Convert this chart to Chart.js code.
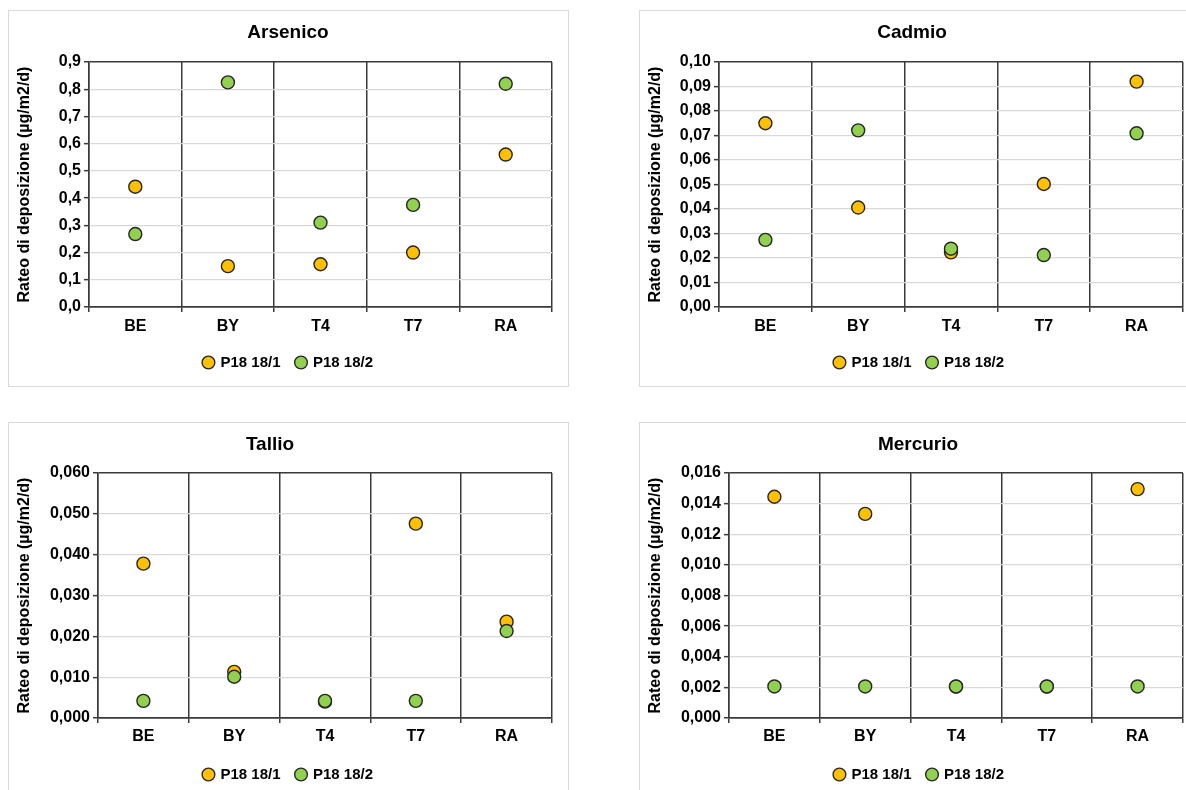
<!DOCTYPE html>
<html>
<head>
<meta charset="utf-8">
<script src="https://cdn.jsdelivr.net/npm/chart.js@4.4.1/dist/chart.umd.min.js"></script>
<style>
  html, body { margin: 0; padding: 0; background: #ffffff; }
  body { width: 1186px; height: 790px; overflow: hidden; position: relative; }
  .box { position: absolute; width: 559px; height: 375px; border: 1px solid #d9d9d9; background: #fff; }
  .box canvas { display: block; }
</style>
</head>
<body>
<div class="box" style="left:8px;top:10px;"><canvas id="c1" width="559" height="375"></canvas></div>
<div class="box" style="left:639px;top:10px;"><canvas id="c2" width="559" height="375"></canvas></div>
<div class="box" style="left:8px;top:422px;"><canvas id="c3" width="559" height="375"></canvas></div>
<div class="box" style="left:639px;top:422px;"><canvas id="c4" width="559" height="375"></canvas></div>
<script>
// ---- Data ----
const categories = ['BE', 'BY', 'T4', 'T7', 'RA'];
const seriesNames = ['P18 18/1', 'P18 18/2'];
const yAxisTitle = 'Rateo di deposizione (µg/m2/d)';

const arsenicoTitle = 'Arsenico';
const arsenico1 = [0.442, 0.150, 0.157, 0.200, 0.560];
const arsenico2 = [0.268, 0.825, 0.310, 0.375, 0.820];
const arsenicoTicks = ['0,0', '0,1', '0,2', '0,3', '0,4', '0,5', '0,6', '0,7', '0,8', '0,9'];

const cadmioTitle = 'Cadmio';
const cadmio1 = [0.0750, 0.0406, 0.0223, 0.0502, 0.0920];
const cadmio2 = [0.0274, 0.0721, 0.0238, 0.0212, 0.0709];
const cadmioTicks = ['0,00', '0,01', '0,02', '0,03', '0,04', '0,05', '0,06', '0,07', '0,08', '0,09', '0,10'];

const tallioTitle = 'Tallio';
const tallio1 = [0.0378, 0.0113, 0.0040, 0.0476, 0.0236];
const tallio2 = [0.0042, 0.0101, 0.0042, 0.0042, 0.0213];
const tallioTicks = ['0,000', '0,010', '0,020', '0,030', '0,040', '0,050', '0,060'];

const mercurioTitle = 'Mercurio';
const mercurio1 = [0.01445, 0.01333, 0.00205, 0.00205, 0.01495];
const mercurio2 = [0.00206, 0.00206, 0.00206, 0.00206, 0.00206];
const mercurioTicks = ['0,000', '0,002', '0,004', '0,006', '0,008', '0,010', '0,012', '0,014', '0,016'];

// ---- Styling ----
const FONT = '"Liberation Sans", Arial, sans-serif';
Chart.defaults.font.family = FONT;
Chart.defaults.color = '#000000';
const DARK = '#3a3a3a';
const LIGHT = '#d9d9d9';
const YELLOW = '#FFC000';
const GREEN = '#92D050';
const MARKER_BORDER = '#262626';

const titlePlugin = {
  id: 'ctitle',
  afterDraw(chart, args, opts) {
    const ctx = chart.ctx;
    ctx.save();
    ctx.font = 'bold 19px ' + FONT;
    ctx.fillStyle = '#000000';
    ctx.textAlign = 'center';
    ctx.textBaseline = 'middle';
    ctx.fillText(opts.text, opts.x, opts.y);
    ctx.restore();
  }
};

function makeChart(id, title, s1, s2, yMax, yStep, tickLabels, lay) {
  const ctx = document.getElementById(id);
  return new Chart(ctx, {
    type: 'line',
    data: {
      labels: categories,
      datasets: [
        {
          label: seriesNames[0], data: s1, showLine: false, order: 1,
          pointRadius: 6.5, pointHoverRadius: 6.5, pointBorderWidth: 1.4,
          pointBackgroundColor: YELLOW, pointBorderColor: MARKER_BORDER,
          backgroundColor: YELLOW, borderColor: MARKER_BORDER, borderWidth: 1.4
        },
        {
          label: seriesNames[1], data: s2, showLine: false, order: 0,
          pointRadius: 6.5, pointHoverRadius: 6.5, pointBorderWidth: 1.4,
          pointBackgroundColor: GREEN, pointBorderColor: MARKER_BORDER,
          backgroundColor: GREEN, borderColor: MARKER_BORDER, borderWidth: 1.4
        }
      ]
    },
    options: {
      responsive: false,
      animation: false,
      devicePixelRatio: 1,
      layout: { padding: { top: lay.top, left: 0, right: 0, bottom: 6 } },
      plugins: {
        tooltip: { enabled: false },
        title: { display: false },
        ctitle: { text: title, x: lay.titleX, y: 22 },
        legend: {
          position: 'bottom',
          align: 'center',
          labels: {
            usePointStyle: true,
            pointStyle: 'circle',
            boxWidth: 9,
            boxHeight: 9,
            padding: 16,
            color: '#000000',
            font: { size: 15, weight: 'bold', family: FONT },
            sort: (a, b) => a.datasetIndex - b.datasetIndex
          }
        }
      },
      scales: {
        x: {
          type: 'category',
          offset: true,
          grid: {
            offset: true,
            display: true,
            drawOnChartArea: true,
            color: DARK,
            lineWidth: 1.5,
            tickLength: 5,
            tickColor: DARK
          },
          border: { display: true, color: DARK, width: 1.5 },
          ticks: {
            padding: lay.xPad,
            color: '#000000',
            font: { size: 16, weight: 'bold', family: FONT },
            maxRotation: 0
          },
          afterFit(scale) { scale.height = lay.xH; }
        },
        y: {
          type: 'linear',
          position: 'left',
          min: 0,
          max: yMax,
          grid: {
            color: (c) => {
              if (!c.tick) return LIGHT;
              const v = c.tick.value;
              if (Math.abs(v - yMax) < yStep / 100 || Math.abs(v) < yStep / 100) return DARK;
              return LIGHT;
            },
            lineWidth: (c) => {
              if (!c.tick) return 1.3;
              const v = c.tick.value;
              if (Math.abs(v - yMax) < yStep / 100 || Math.abs(v) < yStep / 100) return 1.5;
              return 1.3;
            },
            tickLength: 5,
            tickColor: DARK,
            tickWidth: 1.5
          },
          border: { display: true, color: DARK, width: 1.5 },
          ticks: {
            stepSize: yStep,
            padding: 3,
            color: '#000000',
            font: { size: 16, weight: 'bold', family: FONT },
            callback: (value, index) => tickLabels[index]
          },
          title: {
            display: true,
            text: yAxisTitle,
            color: '#000000',
            font: { size: 16, weight: 'bold', family: FONT },
            padding: { top: 6, bottom: 0 }
          },
          afterFit(scale) { scale.width = lay.yW; }
        },
        yr: {
          type: 'linear',
          position: 'right',
          display: true,
          grid: { display: false, drawTicks: false },
          border: { display: false },
          ticks: { display: false },
          afterFit(scale) { scale.width = 16; }
        }
      }
    },
    plugins: [titlePlugin]
  });
}

makeChart('c1', arsenicoTitle, arsenico1, arsenico2, 0.9, 0.1, arsenicoTicks,
  { top: 51, yW: 80, xH: 32, xPad: 5, titleX: 279 });
makeChart('c2', cadmioTitle, cadmio1, cadmio2, 0.10, 0.01, cadmioTicks,
  { top: 51, yW: 79, xH: 32, xPad: 5, titleX: 272 });
makeChart('c3', tallioTitle, tallio1, tallio2, 0.060, 0.010, tallioTicks,
  { top: 50, yW: 89, xH: 33, xPad: 4, titleX: 261 });
makeChart('c4', mercurioTitle, mercurio1, mercurio2, 0.016, 0.002, mercurioTicks,
  { top: 50, yW: 89, xH: 33, xPad: 4, titleX: 278 });
</script>
</body>
</html>
